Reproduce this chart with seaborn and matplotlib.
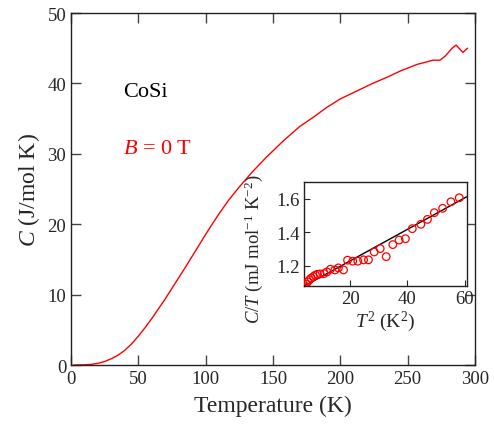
import numpy as np
import pandas as pd
import matplotlib
matplotlib.use("Agg")
import matplotlib.pyplot as plt
import seaborn as sns

# Specific heat of CoSi at zero field
temperature = [2, 10, 15, 20, 25, 30, 35, 40, 45, 50, 55, 60, 65, 70, 75, 80,
               85, 90, 95, 100, 105, 110, 117, 125, 135, 145, 158, 170, 180,
               190, 200, 212, 224, 235, 245, 257, 269, 274, 278, 283, 286,
               291, 294.5]
heat_capacity = [0.0, 0.03, 0.09, 0.24, 0.5, 0.9, 1.4, 2.1, 3.0, 4.1, 5.3,
                 6.6, 8.0, 9.4, 10.9, 12.4, 13.9, 15.45, 17.0, 18.55, 20.05,
                 21.5, 23.4, 25.3, 27.5, 29.5, 31.9, 33.9, 35.2, 36.6, 37.8,
                 38.9, 40.0, 40.9, 41.8, 42.7, 43.3, 43.3, 43.9, 45.0, 45.45,
                 44.4, 45.0]

# Low-temperature C/T versus T^2
t_squared = [3.95, 4.65, 5.2, 5.8, 6.4, 7.2, 7.9, 8.6, 9.5, 10.9, 11.9, 13.1,
             14.7, 15.9, 17.7, 19.1, 20.9, 22.7, 24.7, 26.4, 28.4, 30.5, 32.6,
             34.9, 37.1, 39.3, 41.7, 44.7, 47.0, 49.4, 52.3, 55.2, 58.1]
c_over_t = [1.077, 1.091, 1.105, 1.117, 1.127, 1.137, 1.145, 1.150, 1.152,
            1.154, 1.164, 1.180, 1.176, 1.188, 1.176, 1.234, 1.228, 1.228,
            1.236, 1.236, 1.283, 1.303, 1.255, 1.327, 1.354, 1.362, 1.422,
            1.448, 1.477, 1.517, 1.543, 1.582, 1.606]

# Linear fit C/T = gamma + beta T^2
gamma = 1.042
beta = 0.00939
fit_range = [3.7, 60.7]

sns.set_style("ticks")
SERIF = ["Liberation Serif", "DejaVu Serif"]
plt.rcParams["font.family"] = SERIF
plt.rcParams["mathtext.fontset"] = "custom"
plt.rcParams["mathtext.rm"] = "Liberation Serif"
plt.rcParams["mathtext.it"] = "Liberation Serif:italic"
plt.rcParams["mathtext.bf"] = "Liberation Serif:bold"

fig = plt.figure(figsize=(4.94, 4.35), dpi=100)
ax = fig.add_axes([0.1437, 0.1586, 0.8178, 0.8092])

main_df = pd.DataFrame({"T": temperature, "C": heat_capacity})
sns.lineplot(data=main_df, x="T", y="C", ax=ax, color="red", lw=1.0,
             estimator=None, sort=False)
ax.set_xlim(0, 300)
ax.set_ylim(0, 50)
ax.set_xticks(range(0, 301, 50))
ax.set_yticks(range(0, 51, 10))
ax.set_xlabel("Temperature (K)", fontsize=17, labelpad=6)
ax.set_ylabel("$C$ (J/mol K)", fontsize=17, labelpad=4)
ax.tick_params(direction="in", length=7, width=1, labelsize=13.5,
               top=True, right=True, color="#444444")
for lab in ax.get_xticklabels() + ax.get_yticklabels():
    lab.set_fontfamily(SERIF)
for s in ax.spines.values():
    s.set_linewidth(1.0)
    s.set_color("#222222")
    s.set_visible(True)

ax.text(38.6, 38.9, "CoSi", fontsize=16, color="black", va="center")
ax.text(38.6, 30.7, "$B$ = 0 T", fontsize=16, color="red", va="center")

# Inset
ins = fig.add_axes([0.6154, 0.3402, 0.3299, 0.2391])
inset_df = pd.DataFrame({"T2": t_squared, "CT": c_over_t})
sns.scatterplot(data=inset_df, x="T2", y="CT", ax=ins, marker="o",
                facecolor="none", edgecolor="red", linewidth=0.9, s=30,
                zorder=3)
fit_x = np.array(fit_range)
fit_df = pd.DataFrame({"T2": fit_x, "CT": gamma + beta * fit_x})
sns.lineplot(data=fit_df, x="T2", y="CT", ax=ins, color="black", lw=1.0,
             zorder=2)
ins.set_xlim(3.9, 60.8)
ins.set_ylim(1.08, 1.70)
ins.set_xticks([20, 40, 60])
ins.set_yticks([1.2, 1.4, 1.6])
ins.set_yticklabels(["1.2", "1.4", "1.6"])
ins.tick_params(direction="in", length=4, width=0.8, labelsize=13.5, pad=3)
for lab in ins.get_xticklabels() + ins.get_yticklabels():
    lab.set_fontfamily(SERIF)
ins.set_xlabel("$T^2$ (K$^2$)", fontsize=14, labelpad=1)
ins.set_ylabel("$C/T$ (mJ mol$^{-1}$ K$^{-2}$)", fontsize=13.5)
ins.yaxis.set_label_coords(-0.24, 0.365)
for s in ins.spines.values():
    s.set_linewidth(1.0)
    s.set_color("#222222")
    s.set_visible(True)

fig.savefig("out.png", dpi=100)
